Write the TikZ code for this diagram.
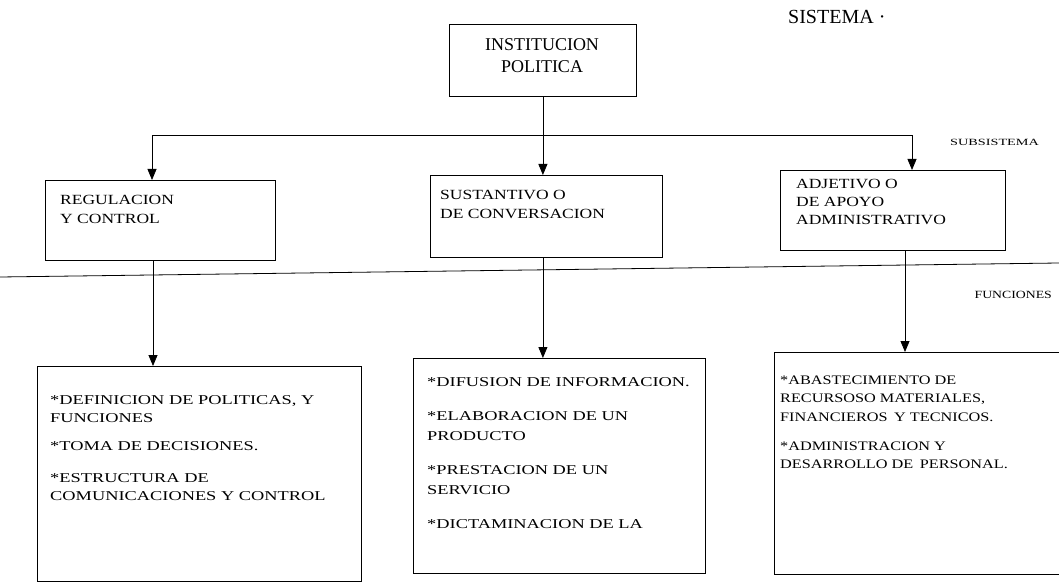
\documentclass[tikz,border=0pt]{standalone}
\usepackage{fontspec}
\setmainfont{Liberation Serif}
\newfontfamily\widefont[FakeStretch=1.25]{Liberation Serif}
\newfontfamily\lowfont[FakeStretch=1.36]{Liberation Serif}
\newfontfamily\tinyfont[FakeStretch=1.5]{Liberation Serif}
\usetikzlibrary{arrows.meta}
\begin{document}
\begin{tikzpicture}[x=1pt,y=-1pt,
  box/.style={draw, line width=0.8pt, anchor=north west, inner sep=0pt},
  lbl/.style={anchor=north west, inner sep=0pt, align=left, font=\widefont\fontsize{14}{19}\selectfont},
  lowtxt/.style={anchor=north west, inner sep=0pt, align=left},
  ln/.style={line width=0.8pt},
  arr/.style={ln, -{Triangle[width=9pt,length=11pt]}}]
\useasboundingbox (0,0) rectangle (1059,585);
% title
\node[anchor=west, inner sep=0pt, font=\fontsize{20}{24}\selectfont] (sis) at (788,17) {SISTEMA ·};
% top box
\node[box, minimum width=187pt, minimum height=72pt] (inst) at (449,24) {};
\node[align=center, inner sep=0pt, font=\fontsize{18}{22}\selectfont] (instt) at (542,56) {INSTITUCION\\POLITICA};
% subsystem boxes
\node[box, minimum width=230pt, minimum height=80pt] (reg) at (45,180) {};
\node[lbl] (regt) at (60,195) {REGULACION\\Y CONTROL};
\node[box, minimum width=232pt, minimum height=82pt] (sust) at (430,175) {};
\node[lbl] (sustt) at (440,190) {SUSTANTIVO O\\DE CONVERSACION};
\node[box, minimum width=225pt, minimum height=80pt] (adj) at (780,170) {};
\node[lbl, font=\widefont\fontsize{14}{18}\selectfont] (adjt) at (796,179) {ADJETIVO O\\DE APOYO\\ADMINISTRATIVO};
% labels
\node[anchor=west, inner sep=0pt, font=\tinyfont\fontsize{9.5}{11}\selectfont] (subs) at (950,142) {SUBSISTEMA};
\node[anchor=east, inner sep=0pt, font=\widefont\fontsize{11}{13}\selectfont] (func) at (1052,295) {FUNCIONES};
% bus
\coordinate (busL) at (152,135);
\coordinate (busR) at (912,135);
\draw[ln] (inst.south) -- (inst.south |- busL);
\draw[arr] (inst.south |- busL) -- (busL) -- (busL |- reg.north);
\draw[arr] (inst.south |- busR) -- (busR) -- (busR |- adj.north);
\draw[arr] (inst.south |- busL) -- (inst.south |- sust.north);
% functions line
\coordinate (fa) at (0,277);
\coordinate (fb) at (1059,263);
\draw[ln] (fa) -- (fb);
% lower boxes
\node[box, minimum width=324pt, minimum height=215pt] (fl) at (37,366) {};
\node[box, minimum width=292pt, minimum height=215pt] (fm) at (413,358) {};
\node[box, minimum width=300pt, minimum height=222pt] (fr) at (774,352) {};
\coordinate (xl) at (153,0);
\coordinate (xr) at (905,0);
\draw[arr] (reg.south -| xl) -- (xl |- fl.north);
\draw[arr] (inst.south |- sust.south) -- (inst.south |- fm.north);
\draw[arr] (adj.south -| xr) -- (xr |- fr.north);
% lower texts
\node[lowtxt, font=\lowfont\fontsize{13.5}{18}\selectfont] (flt) at (50,395.5) {*DEFINICION DE POLITICAS, Y\\FUNCIONES\\[10pt]*TOMA DE DECISIONES.\\[14pt]*ESTRUCTURA DE\\COMUNICACIONES Y CONTROL};
\node[lowtxt, font=\lowfont\fontsize{13.5}{20}\selectfont] (fmt) at (427,377.5) {*DIFUSION DE INFORMACION.\\[14pt]*ELABORACION DE UN\\PRODUCTO\\[14pt]*PRESTACION DE UN\\SERVICIO\\[14pt]*DICTAMINACION DE LA};
\node[lowtxt, font=\widefont\fontsize{13}{18.5}\selectfont] (frt) at (780,375.5) {*ABASTECIMIENTO DE\\RECURSOSO MATERIALES,\\FINANCIEROS\enspace Y TECNICOS.\\[10.5pt]*ADMINISTRACION Y\\DESARROLLO DE\enspace PERSONAL.};
\end{tikzpicture}
\end{document}
